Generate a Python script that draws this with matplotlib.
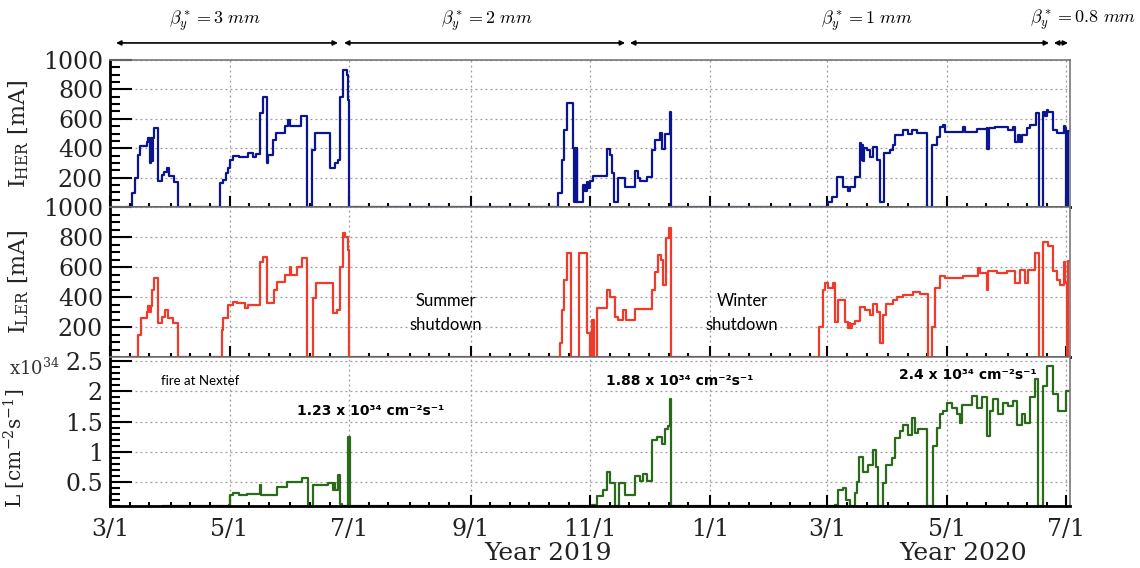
import datetime
import numpy as np
import matplotlib
matplotlib.use("Agg")
import matplotlib.pyplot as plt
import matplotlib.dates as mdates
from matplotlib.ticker import AutoMinorLocator, FuncFormatter

plt.rcParams["font.family"] = "DejaVu Serif"
plt.rcParams["mathtext.fontset"] = "dejavuserif"

start = datetime.datetime(2019, 3, 1)

# HER current: (days since 2019-03-01, mA), step-post
her_day = [9.0, 11.0, 12.8, 14.5, 15.3, 18.7, 19.6, 20.3, 20.8, 21.3, 21.8, 22.4, 24.7, 26.4, 27.6, 28.9, 30.3, 32.7, 34.5,
           56.1, 57.8, 59.2, 60.4, 61.2, 62.9, 66.0, 70.6, 73.1, 74.5, 76.5, 78.2, 79.9, 80.8, 83.3, 84.7, 89.3, 91.0, 91.8,
           97.4, 100.7, 102.9, 104.6, 112.2, 114.8, 116.5, 117.3, 118.7, 120.8, 121.6, 122.1,
           228.7, 230.4, 231.6, 233.0, 236.4, 236.9, 237.3, 237.7, 238.1, 238.5, 241.2, 242.4, 243.2, 244.0, 245.0, 246.5,
           253.4, 255.1, 256.0, 257.1, 259.4, 262.8, 267.9, 269.5, 270.4, 273.8, 276.4, 278.0, 280.6, 281.5, 283.2, 285.7, 286.0,
           366.5, 368.2, 370.8, 374.1, 376.5, 377.5, 380.1, 382.7, 383.3, 383.8, 384.3, 384.8, 386.0, 387.8, 389.5, 391.2,
           392.9, 394.9, 398.0, 399.7, 400.5, 404.8, 407.3, 409.0, 411.6, 416.7, 419.2, 421.8, 423.5, 425.2, 426.0, 433.7,
           435.4, 436.0, 442.2, 447.3, 447.6, 448.5, 451.5, 458.3, 460.9, 461.7, 463.4, 464.5, 465.5, 467.7, 469.4, 472.4,
           474.0, 475.9, 476.8, 478.0, 478.7, 481.3, 483.0, 486.7, 487.3, 488.0, 488.6, 489.8]
her_ma = [0, 95, 197, 354, 415, 444, 471, 300, 470, 310, 470, 540, 177, 218, 240, 265, 211, 172, 0,
          161, 184, 229, 263, 320, 347, 338, 367, 340, 360, 637, 750, 300, 354, 456, 501, 551, 592, 551,
          619, 0, 388, 501, 263, 297, 320, 750, 932, 898, 728, 0,
          93, 320, 524, 705, 399, 36, 399, 36, 399, 36, 150, 110, 170, 130, 180, 211,
          394, 354, 229, 36, 195, 134, 247, 195, 177, 206, 388, 456, 501, 392, 497, 649, 0,
          36, 70, 206, 138, 107, 138, 206, 433, 320, 420, 310, 400, 388, 342, 410, 320,
          36, 365, 388, 422, 490, 524, 497, 524, 501, 0, 422, 478, 546, 558, 512, 512,
          546, 512, 528, 535, 392, 535, 542, 524, 546, 444, 490, 444, 490, 535, 558, 642,
          0, 649, 620, 660, 649, 524, 501, 551, 540, 0, 520, 520]

# LER current
ler_day = [9.4, 14.4, 15.6, 18.7, 19.6, 20.2, 20.7, 21.3, 22.4, 24.7, 26.4, 28.1, 29.8, 32.3, 34.5,
           57.0, 57.8, 60.4, 62.9, 64.6, 68.9, 70.6, 76.5, 78.2, 79.9, 83.7, 85.0, 89.3, 91.8, 92.5, 95.3, 97.8,
           100.7, 103.7, 105.1, 113.9, 116.0, 117.3, 119.0, 120.0, 121.6, 122.1,
           229.6, 230.4, 231.6, 233.0, 235.2, 239.3, 243.2, 245.0, 245.9, 247.0, 248.6, 253.4, 255.1, 257.7, 259.4,
           261.9, 263.1, 267.9, 276.4, 278.1, 279.7, 281.1, 282.3, 283.7, 285.4, 286.2,
           361.9, 363.6, 364.8, 366.5, 369.0, 369.9, 371.6, 375.0, 376.7, 377.3, 377.8, 378.5, 380.1, 382.7, 385.2,
           387.8, 389.5, 391.2, 392.9, 394.6, 396.0, 399.7, 401.4, 404.8, 409.9, 413.3, 417.5, 419.2, 420.9, 423.5,
           426.0, 435.4, 443.0, 443.9, 447.3, 448.0, 452.4, 457.5, 461.7, 464.3, 466.8, 468.5, 471.9, 474.0, 476.2,
           478.5, 481.3, 483.0, 484.7, 486.7, 487.5, 488.2, 488.8, 489.8]
ler_ma = [0, 147, 258, 302, 340, 300, 340, 447, 524, 224, 269, 313, 258, 224, 0,
          180, 258, 347, 369, 358, 324, 347, 636, 669, 360, 447, 502, 547, 602, 547, 602, 658,
          0, 391, 496, 291, 313, 602, 824, 800, 713, 0,
          91, 313, 513, 696, 0, 696, 158, 0, 247, 0, 324, 447, 402, 269, 247,
          313, 247, 318, 447, 569, 680, 647, 480, 791, 858, 0,
          202, 447, 496, 458, 496, 236, 380, 236, 191, 230, 191, 220, 242, 336, 313,
          280, 353, 302, 91, 280, 353, 380, 402, 413, 435, 420, 0, 202, 458, 540,
          524, 540, 591, 562, 447, 571, 558, 571, 496, 580, 496, 580, 691, 0, 769,
          740, 571, 513, 480, 636, 491, 0, 640, 640]

# luminosity, 1e34 cm^-2 s^-1
lum_day = [27.0, 60.5, 61.2, 62.9, 66.0, 69.7, 76.5, 77.2, 85.0, 90.1, 97.8, 101.2, 103.7, 111.4, 113.9, 114.5,
           115.0, 116.5, 117.4, 118.2, 121.6, 122.3,
           245.7, 248.3, 251.7, 253.7, 255.1, 257.7, 259.9, 262.8, 267.9, 270.4, 272.1, 273.8, 276.4, 278.9, 281.5,
           283.2, 284.9, 285.7, 286.1,
           369.9, 371.6, 374.1, 375.5, 377.6, 380.1, 381.0, 382.3, 384.4, 386.9, 389.5, 390.8, 392.0, 394.2, 395.9,
           398.8, 400.5, 403.1, 404.8, 407.3, 409.0, 410.7, 412.4, 416.7, 420.0, 421.8, 423.5, 425.2, 426.9, 429.4,
           432.0, 433.7, 434.5, 439.6, 442.2, 444.7, 447.3, 449.0, 450.7, 453.2, 455.8, 458.3, 460.9, 462.6, 465.2,
           466.8, 469.4, 472.0, 473.6, 476.2, 477.9, 481.3, 483.8, 487.8, 489.8]
lum = [0, 0.12, 0.28, 0.31, 0.28, 0.30, 0.45, 0.29, 0.42, 0.50, 0.56, 0, 0.45, 0.48, 0.37, 0.48,
       0.37, 0.62, 0.14, 0, 1.25, 0,
       0.12, 0.26, 0.37, 0.67, 0.48, 0, 0.48, 0.28, 0.60, 0.52, 0.63, 0.52, 1.19, 1.25, 1.13,
       1.37, 1.43, 1.88, 0,
       0.12, 0.37, 0.40, 0.20, 0.05, 0.31, 0.50, 0.92, 0.67, 0.78, 1.03, 0.75, 0, 0.48, 0.78,
       0.89, 1.23, 1.34, 1.45, 1.28, 1.56, 1.31, 1.37, 0, 1.09, 1.40, 1.62, 1.67, 1.81, 1.73,
       1.62, 1.48, 1.78, 1.92, 1.73, 1.90, 1.26, 1.67, 1.87, 1.62, 1.81, 1.76, 1.84, 1.45, 1.62,
       1.47, 1.90, 2.20, 0, 2.09, 2.42, 1.95, 1.67, 2.0, 2.0]

beta_labels = [r"$\beta_y^* = 3\ mm$", r"$\beta_y^* = 2\ mm$", r"$\beta_y^* = 1\ mm$", r"$\beta_y^* = 0.8\ mm$"]
beta_spans = [(3.1, 116.3), (119.4, 262.8), (265.3, 479.1), (481.6, 488.8)]
beta_text_day = [53.6, 192.3, 386.2]


def day(d):
    return start + datetime.timedelta(days=d)


def dnum(d):
    return mdates.date2num(day(d))


def date_fmt(v, pos):
    d = mdates.num2date(v)
    return "%d/%d" % (d.month, d.day)


def style(ax, ylo, yhi, ticks, nminor):
    ax.set_xlim(day(0), day(489.8))
    ax.set_ylim(ylo, yhi)
    ax.set_yticks(ticks)
    ax.yaxis.set_minor_locator(AutoMinorLocator(nminor))
    ax.yaxis.set_major_formatter(FuncFormatter(lambda v, p: "%g" % v))
    ax.xaxis.set_major_locator(mdates.MonthLocator(bymonth=[1, 3, 5, 7, 9, 11]))
    ax.xaxis.set_minor_locator(mdates.DayLocator(bymonthday=[1, 11, 21]))
    ax.xaxis.set_major_formatter(FuncFormatter(date_fmt))
    ax.tick_params(which="both", direction="in", top=False, right=False, width=1.5, color="black")
    ax.tick_params(axis="y", which="major", length=16, labelsize=17, pad=5, labelcolor="#222222")
    ax.tick_params(axis="y", which="minor", length=7)
    ax.tick_params(axis="x", which="major", length=8, labelsize=17, pad=9, labelcolor="#222222")
    ax.tick_params(axis="x", which="minor", length=3)
    ax.grid(True, which="major", ls=(0, (1.5, 2.5)), color="#9a9a9a", lw=0.9)
    for s in ("left", "bottom"):
        ax.spines[s].set_linewidth(2)
    for s in ("top", "right"):
        ax.spines[s].set_color("#777777")
        ax.spines[s].set_linewidth(1.2)


fig = plt.figure(figsize=(11.4, 5.68), dpi=100)
W, H = 1140.0, 568.0
x0, w = 110 / W, 960 / W
ax1 = fig.add_axes([x0, 1 - 207 / H, w, 147 / H])
ax2 = fig.add_axes([x0, 1 - 357 / H, w, 150 / H], sharex=ax1)
ax3 = fig.add_axes([x0, 1 - 506 / H, w, 149 / H], sharex=ax1)

ax1.plot([day(d) for d in her_day], her_ma, drawstyle="steps-post", color="#0b1591", lw=1.6)
ax2.plot([day(d) for d in ler_day], ler_ma, drawstyle="steps-post", color="#f03a2a", lw=1.6)
lum_lo = 0.1
ax3.plot([day(d) for d in lum_day], np.maximum(lum, lum_lo), drawstyle="steps-post", color="#2b6a1b", lw=1.6)

style(ax1, 0, 1000, [200, 400, 600, 800, 1000], 4)
style(ax2, 0, 1000, [200, 400, 600, 800, 1000], 4)
style(ax3, lum_lo, 2.57, [0.5, 1, 1.5, 2, 2.5], 5)
ax1.tick_params(axis="x", labelbottom=False)
ax2.tick_params(axis="x", labelbottom=False)

ax1.set_ylabel(r"I$_{\rm HER}$ [mA]", fontsize=16, color="#222222")
ax2.set_ylabel(r"I$_{\rm LER}$ [mA]", fontsize=16, color="#222222")
ax3.set_ylabel(r"L [cm$^{-2}$s$^{-1}$]", fontsize=14.5, color="#222222")
ax1.yaxis.set_label_coords(-0.082, 0.5)
ax2.yaxis.set_label_coords(-0.082, 0.5)
ax3.yaxis.set_label_coords(-0.085, 0.39)
fig.text(60 / W, 1 - 368 / H, r"x10$^{34}$", fontsize=13, ha="right", va="center", color="#333333")

# beta* periods on top
tr = ax1.get_xaxis_transform()
for (d1, d2) in beta_spans:
    ax1.annotate("", xy=(dnum(d2), 1.116), xytext=(dnum(d1), 1.116),
                 xycoords=tr, textcoords=tr, annotation_clip=False,
                 arrowprops=dict(arrowstyle="<|-|>", color="black", lw=1.2,
                                 mutation_scale=7, shrinkA=0, shrinkB=0))
for lab, dt in zip(beta_labels[:3], beta_text_day):
    ax1.text(dnum(dt), 1.265, lab, transform=tr, ha="center", va="center",
             fontsize=13, math_fontfamily="cm")
fig.text(1136 / W, 1 - 20 / H, beta_labels[3], ha="right", va="center",
         fontsize=13, math_fontfamily="cm")

ax2.text(day(171.4), 293, "Summer\nshutdown", ha="center", va="center",
         fontsize=12, family="Lato", linespacing=1.55)
ax2.text(day(322.4), 293, "Winter\nshutdown", ha="center", va="center",
         fontsize=12, family="Lato", linespacing=1.55)

ax3.text(day(45.9), 2.17, "fire at Nextef", ha="center", va="center", fontsize=9.5, family="Lato")
bold = dict(ha="center", va="center", fontsize=10, family="DejaVu Sans", weight="bold")
ax3.text(day(133.0), 1.67, "1.23 x 10\u00b3\u2074 cm\u207b\u00b2s\u207b\u00b9", **bold)
ax3.text(day(290.8), 2.17, "1.88 x 10\u00b3\u2074 cm\u207b\u00b2s\u207b\u00b9", **bold)
ax3.text(day(437.8), 2.27, "2.4 x 10\u00b3\u2074 cm\u207b\u00b2s\u207b\u00b9", **bold)

fig.text(548 / W, 1 - 553 / H, "Year 2019", fontsize=18, ha="center", va="center", color="#222222")
fig.text(963 / W, 1 - 553 / H, "Year 2020", fontsize=18, ha="center", va="center", color="#222222")

fig.savefig("out.png", dpi=100)
